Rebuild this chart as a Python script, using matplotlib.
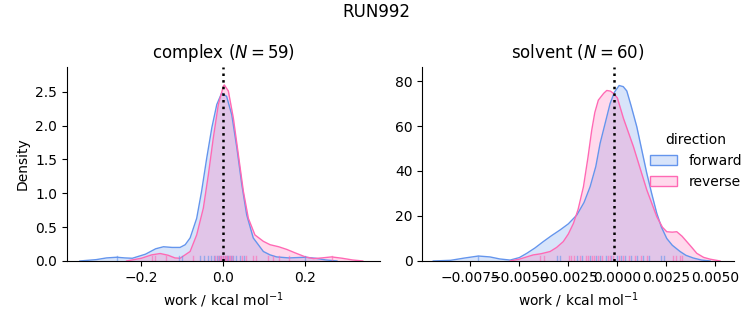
import matplotlib
matplotlib.use("Agg")
import matplotlib.pyplot as plt
import matplotlib.patches as mpatches

col_fwd = "cornflowerblue"
col_rev = "hotpink"

# complex phase: density curves (x, density)
cx_fwd_x = [-0.35, -0.31, -0.285, -0.26, -0.24, -0.222, -0.19, -0.165, -0.146, -0.125,
            -0.1056, -0.093, -0.081, -0.065, -0.053, -0.0405, -0.028, -0.016, -0.004, 0.008,
            0.0205, 0.033, 0.045, 0.057, 0.073, 0.0976, 0.114, 0.13, 0.16, 0.2,
            0.225, 0.25, 0.277]
cx_fwd_d = [0.0, 0.02, 0.045, 0.055, 0.045, 0.04, 0.1, 0.18, 0.21, 0.2,
            0.2, 0.24, 0.34, 0.63, 1.03, 1.52, 1.97, 2.31, 2.48, 2.43,
            2.16, 1.67, 1.13, 0.68, 0.34, 0.14, 0.09, 0.06, 0.045, 0.055,
            0.04, 0.015, 0.0]
cx_rev_x = [-0.236, -0.2, -0.175, -0.154, -0.135, -0.118, -0.1056, -0.081, -0.065, -0.0488,
            -0.0366, -0.0244, -0.0122, 0.0, 0.0024, 0.0122, 0.0244, 0.0366, 0.0488, 0.061,
            0.077, 0.0976, 0.114, 0.135, 0.155, 0.175, 0.2, 0.22, 0.24, 0.264,
            0.29, 0.315, 0.34]
cx_rev_d = [0.0, 0.04, 0.09, 0.11, 0.085, 0.045, 0.04, 0.14, 0.385, 0.78,
            1.27, 1.82, 2.31, 2.58, 2.6, 2.51, 2.11, 1.57, 1.03, 0.63,
            0.385, 0.29, 0.24, 0.21, 0.17, 0.12, 0.06, 0.035, 0.045, 0.06,
            0.04, 0.015, 0.0]

# solvent phase
sv_fwd_x = [-0.00939, -0.0085, -0.0078, -0.00709, -0.0065, -0.006, -0.00547, -0.005,
            -0.00462, -0.0042, -0.00378, -0.00335, -0.00292, -0.0025, -0.00207, -0.0017,
            -0.00139, -0.0011, -0.00088, -0.0006, -0.00037, -0.00015, 0.00009, 0.0003,
            0.00048, 0.0007, 0.00099, 0.0015, 0.00175, 0.00201, 0.00225, 0.00252,
            0.0028, 0.0032, 0.0035, 0.00388, 0.0043, 0.00473]
sv_fwd_d = [0.0, 0.3, 1.3, 2.2, 1.8, 0.9, 0.4, 1.5,
            3.4, 5.8, 8.6, 11.3, 13.8, 16.5, 20.4, 26.0,
            33.0, 42.0, 52.3, 62.0, 70.0, 75.0, 78.0, 77.5,
            75.6, 69.0, 59.7, 39.0, 30.0, 21.2, 15.0, 10.0,
            7.0, 4.2, 2.5, 1.3, 0.4, 0.0]
sv_rev_x = [-0.00547, -0.005, -0.0047, -0.00429, -0.0039, -0.00343, -0.0031, -0.00276,
            -0.0025, -0.00224, -0.002, -0.00173, -0.0015, -0.00131, -0.00115, -0.00097,
            -0.0007, -0.00054, -0.00035, -0.0002, 0.0, 0.00031, 0.00082, 0.0015,
            0.00201, 0.0023, 0.00252, 0.0028, 0.00303, 0.0033, 0.00354, 0.0038,
            0.00405, 0.0044, 0.00473, 0.00524]
sv_rev_d = [0.0, 0.8, 1.6, 2.7, 3.2, 4.2, 6.0, 8.6,
            12.0, 16.7, 23.0, 33.0, 46.0, 58.0, 66.0, 71.5,
            74.5, 75.8, 75.5, 74.5, 72.5, 63.4, 50.8, 31.6,
            19.7, 15.0, 13.0, 12.8, 13.0, 11.0, 8.6, 6.0,
            3.4, 1.6, 0.8, 0.0]

# rug values (individual works)
cx_fwd_rug = [-0.26, -0.109, -0.10, -0.057, -0.048, -0.038, -0.03, -0.022, -0.015, -0.01,
              -0.006, -0.002, 0.003, 0.008, 0.012, 0.018, 0.024, 0.031, 0.04, 0.05,
              0.2]
cx_rev_rug = [-0.174, -0.166, -0.14, -0.075, -0.02, -0.014, -0.009, -0.005, -0.002, 0.0,
              0.003, 0.006, 0.009, 0.013, 0.017, 0.02, 0.045, 0.055, 0.072, 0.08,
              0.11, 0.12, 0.135, 0.16, 0.264]
sv_fwd_rug = [-0.0071, -0.00308, -0.00292, -0.00205, -0.0018, -0.0014, -0.0011, -0.0009,
              -0.0006, -0.0003, 0.0, 0.0002, 0.0004, 0.0007, 0.001, 0.0013, 0.0016,
              0.0022, 0.0024]
sv_rev_rug = [-0.00393, -0.00376, -0.00248, -0.00235, -0.00222, -0.0019, -0.0016, -0.0015,
              -0.0013, -0.0012, -0.001, -0.0008, -0.0005, -0.0004, -0.0002, 0.0001, 0.0003,
              0.0006, 0.0009, 0.0012, 0.0015, 0.00285, 0.003, 0.0032, 0.0033]

cx_mark = -0.0015
sv_mark = -0.00018

panels = [
    ("complex ($N = 59$)", cx_fwd_x, cx_fwd_d, cx_rev_x, cx_rev_d, cx_fwd_rug, cx_rev_rug,
     cx_mark, (-0.382, 0.382), (0, 2.87)),
    ("solvent ($N = 60$)", sv_fwd_x, sv_fwd_d, sv_rev_x, sv_rev_d, sv_fwd_rug, sv_rev_rug,
     sv_mark, (-0.00995, 0.00595), (0, 86.4)),
]

fig = plt.figure(figsize=(7.53, 3.25), dpi=100)
ax1 = fig.add_axes([0.0886, 0.197, 0.416, 0.598])
ax2 = fig.add_axes([0.5608, 0.197, 0.414, 0.598])

for ax, (title, fx, fd, rx, rd, frug, rrug, mark, xl, yl) in zip([ax1, ax2], panels):
    ax.fill_between(fx, fd, color=col_fwd, alpha=0.25, lw=0)
    ax.plot(fx, fd, color=col_fwd, lw=1.0)
    ax.fill_between(rx, rd, color=col_rev, alpha=0.25, lw=0)
    ax.plot(rx, rd, color=col_rev, lw=1.0)
    trans = ax.get_xaxis_transform()
    for v in frug:
        ax.plot([v, v], [0, 0.025], color=col_fwd, lw=1, alpha=0.6, transform=trans)
    for v in rrug:
        ax.plot([v, v], [0, 0.025], color=col_rev, lw=1, alpha=0.6, transform=trans)
    ax.axvline(mark, color="black", ls=":", lw=1.8)
    ax.set_xlim(*xl)
    ax.set_ylim(*yl)
    ax.set_title(title, fontsize=12)
    ax.set_xlabel("work / kcal mol$^{-1}$")
    ax.spines[["top", "right"]].set_visible(False)

ax1.set_ylabel("Density")
ax1.set_xticks([-0.2, 0.0, 0.2])
ax1.set_yticks([0, 0.5, 1.0, 1.5, 2.0, 2.5])
ax2.set_xticks([-0.0075, -0.005, -0.0025, 0.0, 0.0025, 0.005])
ax2.set_yticks([0, 20, 40, 60, 80])

handles = [mpatches.Patch(facecolor=matplotlib.colors.to_rgba(col_fwd, 0.25), edgecolor=col_fwd, label="forward"),
           mpatches.Patch(facecolor=matplotlib.colors.to_rgba(col_rev, 0.25), edgecolor=col_rev, label="reverse")]
fig.legend(handles=handles, title="direction", frameon=False, loc="center left",
           bbox_to_anchor=(0.846, 0.505), fontsize=10, title_fontsize=10)

fig.suptitle("RUN992", fontsize=12, y=0.99)
fig.savefig("out.png", dpi=100)
